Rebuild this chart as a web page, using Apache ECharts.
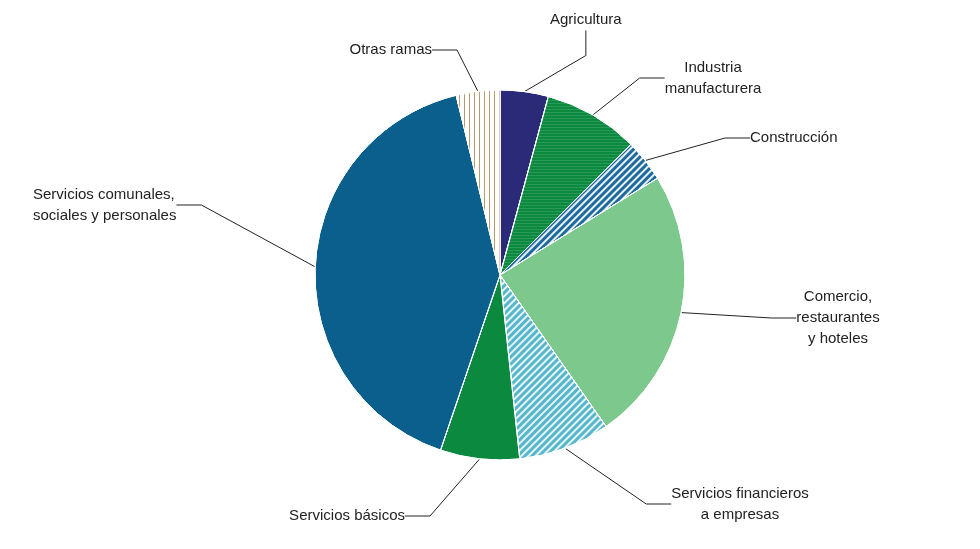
<!DOCTYPE html>
<html><head><meta charset="utf-8">
<script src="https://cdn.jsdelivr.net/npm/echarts@6/dist/echarts.min.js"></script>
<style>html,body{margin:0;background:#fff}#c{width:980px;height:549px}</style>
</head><body><div id="c"></div>
<script>
const categories = ["Agricultura","Industria\nmanufacturera","Construcción","Comercio,\nrestaurantes\ny hoteles","Servicios financieros\na empresas","Servicios básicos","Servicios comunales,\nsociales y personales","Otras ramas"];
const values = [4.2, 8.3, 3.7, 24.0, 8.0, 6.9, 40.9, 3.8];

const colors = ["#2a2a78","#0b8a3f","#1d6b9e","#7dc98d","#56b7cc","#0b8a3f","#0b5f8c","#ffffff"];
const decals = [
  null,
  {symbol:'circle',symbolSize:0.35,color:'#ffffff',dashArrayX:[1,0],dashArrayY:[3,0],rotation:0},
  {symbol:'rect',color:'rgba(255,255,255,0.9)',dashArrayX:[1,0],dashArrayY:[2,3],rotation:-Math.PI/4},
  null,
  {symbol:'rect',color:'rgba(255,255,255,0.85)',dashArrayX:[1,0],dashArrayY:[2,3],rotation:-Math.PI/4},
  null,
  null,
  {symbol:'rect',color:'#b89a70',dashArrayX:[1,0],dashArrayY:[1,4],rotation:Math.PI/2}
];
const labelPos = [
  {x:550,y:20,align:'left'},
  {x:713,y:78,align:'center'},
  {x:750,y:138,align:'left'},
  {x:838,y:318,align:'center'},
  {x:740,y:504,align:'center'},
  {x:405,y:516,align:'right'},
  {x:33,y:205,align:'left'},
  {x:432,y:50,align:'right'}
];
const chart = echarts.init(document.getElementById('c'));
chart.setOption({
  animation:false,
  series:[{
    type:'pie', center:[500,275], radius:185, startAngle:90, clockwise:true,
    itemStyle:{borderColor:'#fff',borderWidth:1},
    label:{color:'#222',fontSize:15,fontFamily:'Liberation Sans, Arial',lineHeight:21},
    labelLine:{show:true,length:25,length2:25,lineStyle:{color:'#222',width:1}},
    labelLayout:function(p){const l=labelPos[p.dataIndex];return {x:l.x,y:l.y,align:l.align,verticalAlign:'middle'};},
    data:categories.map((c,i)=>({name:c,value:values[i],itemStyle:{color:colors[i],decal:decals[i]||{symbol:'none'}}}))
  }]
});
</script></body></html>
